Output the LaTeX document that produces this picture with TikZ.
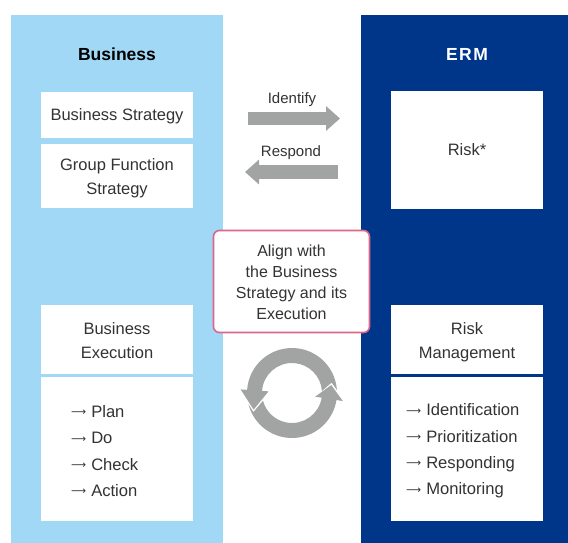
\documentclass[tikz,border=0pt]{standalone}
\usepackage{fontspec}
\setmainfont{Liberation Sans}
\newfontfamily\arrowfont{DejaVu Sans}
\newcommand\listarrow{\raisebox{1.6pt}{\arrowfont\fontsize{10.5}{10.5}\selectfont ⟶}\hspace{5pt}}
\usetikzlibrary{arrows.meta,calc}
\definecolor{lightblue}{HTML}{A0D8F5}
\definecolor{ermblue}{HTML}{00368A}
\definecolor{arrowgray}{HTML}{A2A4A3}
\definecolor{alignpink}{HTML}{DB6688}
\definecolor{txt}{HTML}{333333}
\begin{document}
\begin{tikzpicture}[x=1pt,y=-1pt,
  panel/.style={inner sep=0,outer sep=0,anchor=north west,minimum height=528pt},
  title/.style={inner sep=0,text height=12.5pt,text depth=0pt,font=\fontsize{17.5}{20}\selectfont\bfseries},
  box/.style={fill=white,inner sep=0,outer sep=0,minimum width=152pt,text=txt,
    font=\fontsize{16.5}{24}\selectfont,align=center,text depth=0pt,text height=11.8pt},
  box2/.style={box,text height=37.8pt},
  listtext/.style={anchor=west,inner sep=0,text=txt,align=left,
    font=\fontsize{16.6}{26.4}\selectfont},
  lbl/.style={text=txt,inner sep=0,text height=10.7pt,text depth=0pt,font=\fontsize{15}{18}\selectfont},
  bigarrow/.style={draw=arrowgray,line width=13pt,-{Triangle[width=24pt,length=14pt]}},
  ringpart/.style={fill=arrowgray},
  alignbox/.style={draw=alignpink,line width=1.6pt,fill=white,rounded corners=6pt,
    minimum width=156pt,minimum height=102pt,inner sep=0,text=txt,align=center,
    text depth=0pt,text height=76.1pt,font=\fontsize{16}{21}\selectfont}]
\useasboundingbox (0,0) rectangle (568,543);
% panels
\node[panel,fill=lightblue,minimum width=212pt] (bizpanel) at (11,15) {};
\node[panel,fill=ermblue,minimum width=207pt] (ermpanel) at (361,15) {};
\node[title] (biztitle) at (117,54) {Business};
\node[title,text=white] (ermtitle) at (467,54.5) {E\kern1.5pt R\kern1.5pt M};
% business boxes
\node[box,minimum height=46pt] (bs) at (117,115) {Business Strategy};
\node[box2,minimum height=64pt] (gfs) at (117,176) {Group Function\\Strategy};
\node[box2,minimum height=69pt] (bex) at (117,339.5) {Business\\Execution};
\node[box,minimum height=144pt] (blist) at (117,449) {};
\node[listtext] (blistt) at (71,451) {\listarrow Plan\\\listarrow Do\\\listarrow Check\\\listarrow Action};
% ERM boxes
\node[box,minimum height=118pt] (risk) at (467,150) {Risk*};
\node[box2,minimum height=69pt] (rm) at (467,339.5) {Risk\\Management};
\node[box,minimum height=144pt] (rlist) at (467,449) {};
\node[listtext] (rlistt) at (406,451) {\listarrow Identification\\\listarrow Prioritization\\\listarrow Responding\\\listarrow Monitoring};
% identify / respond
\coordinate (idS) at (248,118.5);
\coordinate (idE) at (340,118.5);
\draw[bigarrow] (idS) -- (idE);
\node[lbl] (idlbl) at (292,98) {Identify};
\coordinate (reS) at (338,172);
\coordinate (reE) at (245,172);
\draw[bigarrow,line width=14pt] (reS) -- (reE);
\node[lbl] (relbl) at (291,151) {Respond};
% align box
\node[alignbox] (align) at (291.5,281.5) {Align with\\the Business\\Strategy and its\\Execution};
% cycle
\coordinate (cyc) at (292,393);
\fill[ringpart] ($(cyc)+(-3.8:45)$) arc[start angle=-3.8,end angle=-176,radius=45]
  -- ($(cyc)+(-176:51.5)$) -- ($(cyc)+(-38.39,16.59)$) -- ($(cyc)+(-176:23.5)$)
  -- ($(cyc)+(-176:30)$) arc[start angle=-176,end angle=-3.8,radius=30]
  -- ($(cyc)+(39.62,-10.43)$) -- cycle;
\fill[ringpart] ($(cyc)+(165.2:45)$) arc[start angle=165.2,end angle=9,radius=45]
  -- ($(cyc)+(9:51.5)$) -- ($(cyc)+(39.23,-7.96)$) -- ($(cyc)+(9:23.5)$)
  -- ($(cyc)+(9:30)$) arc[start angle=9,end angle=165.2,radius=30]
  -- ($(cyc)+(-38.56,19.08)$) -- cycle;
\end{tikzpicture}
\end{document}
